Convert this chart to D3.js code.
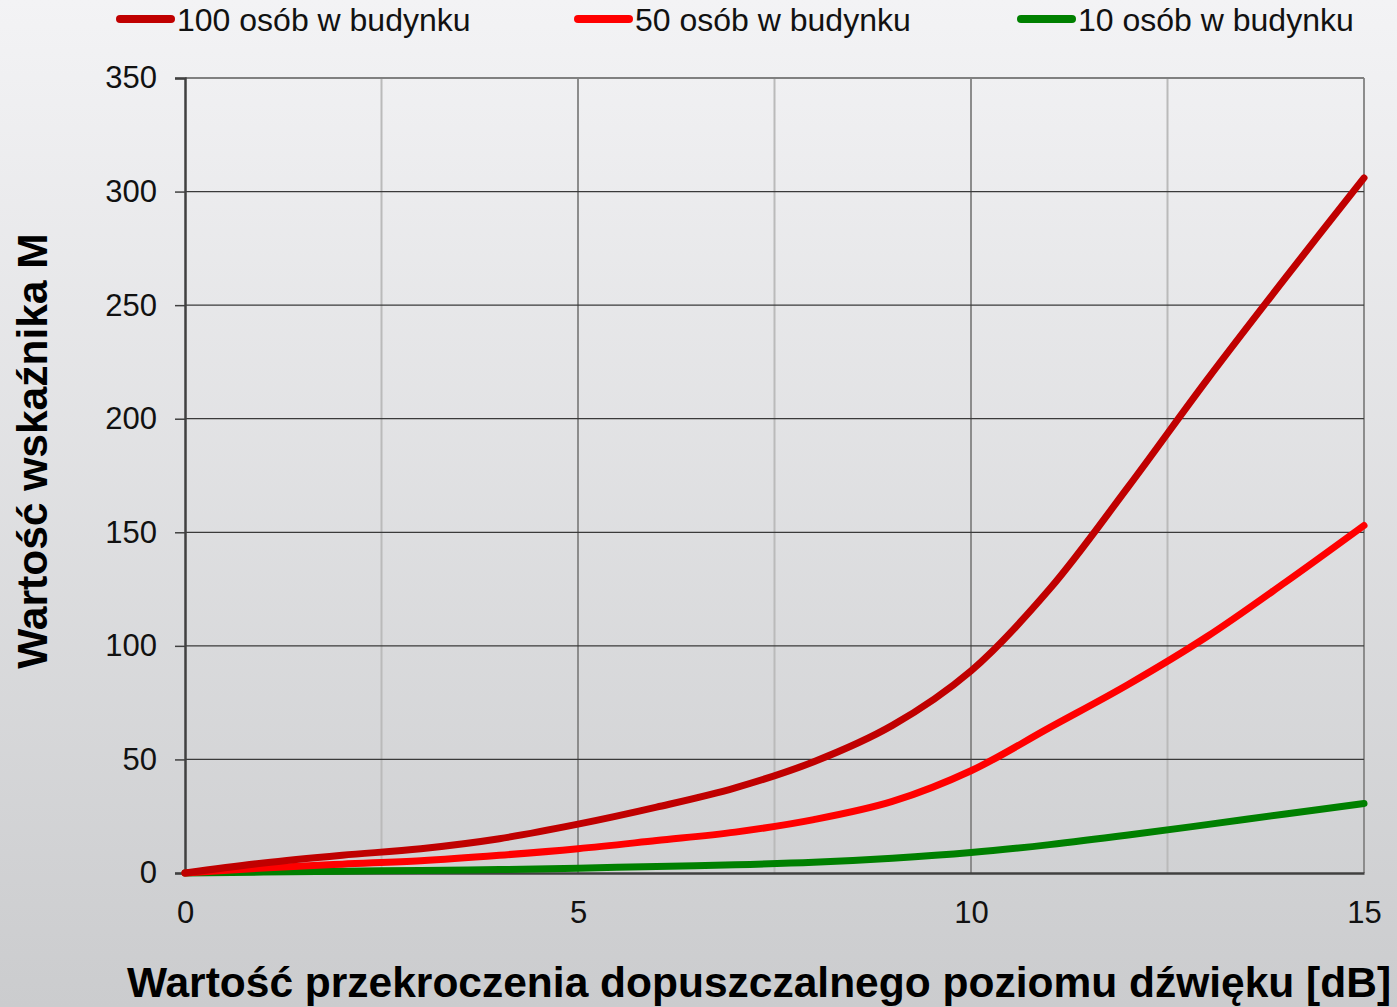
<!DOCTYPE html>
<html>
<head>
<meta charset="utf-8">
<script src="https://cdn.jsdelivr.net/npm/d3@7"></script>
<style>
  html, body { margin: 0; padding: 0; }
  body { width: 1397px; height: 1007px; overflow: hidden; }
  svg { display: block; font-family: "Liberation Sans", Arial, sans-serif; }
</style>
</head>
<body>
<div id="chart"></div>
<script>
// Wartość wskaźnika M vs przekroczenie poziomu dźwięku
const xValues = [0, 1, 2, 3, 4, 5, 6, 7, 8, 9, 10, 11, 12, 13, 14, 15]
const series100 = [0, 4.4, 7.8, 10.7, 15.1, 21.5, 29, 37.5, 49, 65, 89, 125, 170, 217, 262, 306]
const series50 = [0, 2.2, 3.9, 5.4, 7.8, 10.7, 14.3, 18, 23.5, 31.5, 45, 64, 83, 104, 128, 153]
const series10 = [0, 0.4, 0.8, 1.1, 1.5, 2.1, 2.9, 3.6, 4.7, 6.5, 9, 12.5, 16.7, 21.3, 26, 30.6]
const seriesNames = ["100 osób w budynku", "50 osób w budynku", "10 osób w budynku"]
const seriesColors = ["#c00000", "#ff0000", "#008000"]
const yTicks = [0, 50, 100, 150, 200, 250, 300, 350]
const xTicks = [0, 5, 10, 15]
const xMinorTicks = [2.5, 7.5, 12.5]

const W = 1397, H = 1007
const margin = { top: 78, right: 33, bottom: 134, left: 185 }
const width = W - margin.left - margin.right
const height = H - margin.top - margin.bottom

const svg = d3.select("#chart").append("svg")
  .attr("width", W)
  .attr("height", H)

// background gradient
const grad = svg.append("defs").append("linearGradient")
  .attr("id", "bg").attr("x1", 0).attr("y1", 0).attr("x2", 0).attr("y2", 1)
grad.append("stop").attr("offset", "0%").attr("stop-color", "#f3f3f5")
grad.append("stop").attr("offset", "100%").attr("stop-color", "#cbccce")
svg.append("rect").attr("width", W).attr("height", H).attr("fill", "url(#bg)")

const g = svg.append("g").attr("transform", `translate(${margin.left},${margin.top})`)

const x = d3.scaleLinear().domain([0, 15]).range([0, width])
const y = d3.scaleLinear().domain([0, 350]).range([height, 0])

// minor vertical grid
g.append("g").selectAll("line").data(xMinorTicks).join("line")
  .attr("x1", d => x(d)).attr("x2", d => x(d))
  .attr("y1", 0).attr("y2", height)
  .attr("stroke", "#bababa").attr("stroke-width", 2)

// major vertical grid
g.append("g").selectAll("line").data(xTicks.slice(1)).join("line")
  .attr("x1", d => x(d)).attr("x2", d => x(d))
  .attr("y1", 0).attr("y2", height)
  .attr("stroke", "#8c8c8c").attr("stroke-width", 2)

// horizontal grid
g.append("g").selectAll("line").data(yTicks.slice(1)).join("line")
  .attr("x1", 0).attr("x2", width)
  .attr("y1", d => y(d)).attr("y2", d => y(d))
  .attr("stroke", d => d === 350 ? "#808080" : "#3a3a3a")
  .attr("stroke-width", d => d === 350 ? 2 : 1.2)

// y axis
const yAxis = g.append("g")
  .call(d3.axisLeft(y).tickValues(yTicks).tickSize(10).tickPadding(18))
yAxis.select(".domain").attr("stroke", "#404040").attr("stroke-width", 2.5)
yAxis.selectAll(".tick line").attr("stroke", "#404040").attr("stroke-width", 1.5)
yAxis.selectAll(".tick text")
  .attr("font-size", 31).attr("fill", "#111")
  .attr("font-family", null)

// x axis
const xAxis = g.append("g")
  .attr("transform", `translate(0,${height})`)
  .call(d3.axisBottom(x).tickValues(xTicks).tickSize(0).tickPadding(28))
xAxis.select(".domain").attr("stroke", "#404040").attr("stroke-width", 2.5)
xAxis.selectAll(".tick text")
  .attr("font-size", 31).attr("fill", "#111")
  .attr("font-family", null)
yAxis.attr("font-family", null)
xAxis.attr("font-family", null)

// series lines
const allSeries = [series100, series50, series10]
const line = d3.line()
  .x((d, i) => x(xValues[i]))
  .y(d => y(d))
  .curve(d3.curveCatmullRom.alpha(0.5))

allSeries.slice().reverse().forEach((vals, k) => {
  const i = allSeries.length - 1 - k
  g.append("path")
    .datum(vals)
    .attr("d", line)
    .attr("fill", "none")
    .attr("stroke", seriesColors[i])
    .attr("stroke-width", 7)
    .attr("stroke-linecap", "round")
    .attr("stroke-linejoin", "round")
})

// legend
const legendX = [117, 575, 1018]
const legend = svg.append("g")
seriesNames.forEach((name, i) => {
  const lg = legend.append("g").attr("transform", `translate(${legendX[i]},19)`)
  lg.append("line")
    .attr("x1", 3).attr("x2", 54).attr("y1", 0).attr("y2", 0)
    .attr("stroke", seriesColors[i]).attr("stroke-width", 8)
    .attr("stroke-linecap", "round")
  lg.append("text")
    .attr("x", 60).attr("y", 12)
    .attr("font-size", 32).attr("fill", "#111")
    .text(name)
})

// axis titles
svg.append("text")
  .attr("transform", `translate(47,451) rotate(-90)`)
  .attr("text-anchor", "middle")
  .attr("font-size", 42.5).attr("font-weight", "bold").attr("fill", "#000")
  .text("Wartość wskaźnika M")

svg.append("text")
  .attr("x", 759).attr("y", 997)
  .attr("text-anchor", "middle")
  .attr("font-size", 42.5).attr("font-weight", "bold").attr("fill", "#000")
  .text("Wartość przekroczenia dopuszczalnego poziomu dźwięku [dB]")
</script>
</body>
</html>
